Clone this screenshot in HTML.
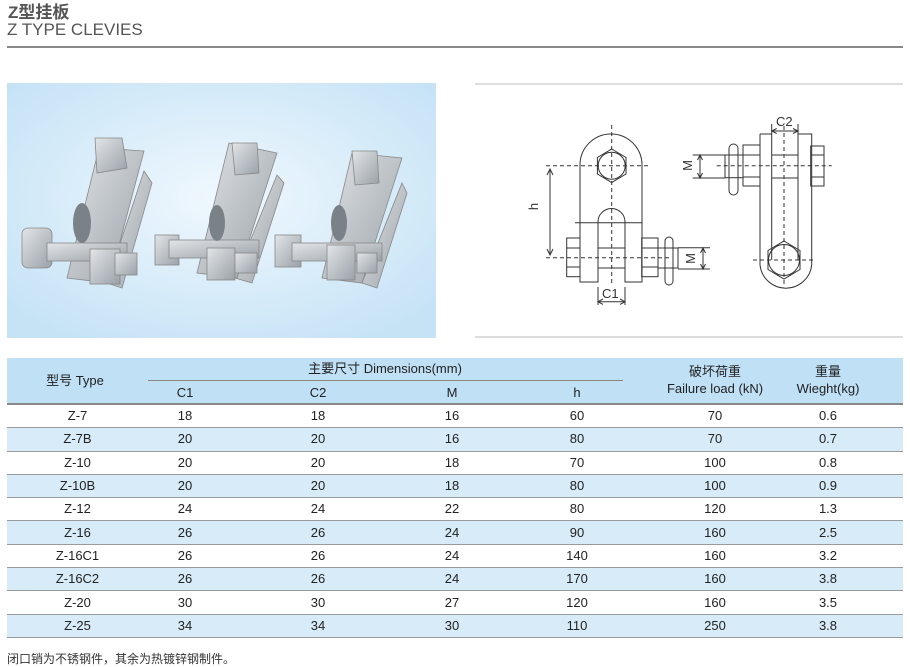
<!DOCTYPE html>
<html><head><meta charset="utf-8"><style>
body{margin:0;width:910px;height:665px;background:#fff;position:relative;font-family:"Liberation Sans","Noto Sans CJK SC",sans-serif;color:#333;overflow:hidden}
.a{position:absolute}
table{border-collapse:collapse;position:absolute;left:7px;top:405px;width:896px;font-size:13px;color:#222;table-layout:fixed}
td{text-align:center;padding:0;height:22.3px;border-bottom:1px solid #9a9a9a;line-height:22px}
tr.b td{background:#d7ebf8}
.h{position:absolute;font-size:13px;color:#222;text-align:center;width:160px;line-height:17px}
</style></head><body>
<div class="a" style="left:8px;top:-2px;font-size:17px;font-weight:bold;color:#555">Z型挂板</div>
<div class="a" style="left:7px;top:20px;font-size:17px;color:#555">Z TYPE CLEVIES</div>
<div class="a" style="left:7px;top:46px;width:896px;height:2px;background:#888"></div>

<svg class="a" style="left:7px;top:83px" width="429" height="255">
<defs><radialGradient id="g" cx="50%" cy="45%" r="65%"><stop offset="0" stop-color="#f0f8fe"/><stop offset="1" stop-color="#c6e3f6"/></radialGradient>
<linearGradient id="m" x1="0" y1="0" x2="1" y2="1"><stop offset="0" stop-color="#e2e5e8"/><stop offset="1" stop-color="#9aa1a7"/></linearGradient></defs>
<rect width="429" height="255" fill="url(#g)"/>
<g fill="url(#m)" stroke="#888" stroke-width="0.8">
<polygon points="137,88 145,100 115,205 100,200"/>
<polygon points="92,65 137,68 102,200 60,195"/>
<rect x="15" y="145" width="30" height="40" rx="6"/><rect x="40" y="160" width="80" height="18"/><rect x="83" y="166" width="30" height="35"/><rect x="108" y="170" width="22" height="22"/>
<polygon points="88,55 115,55 120,85 90,90"/>
<polygon points="270,92 277,100 245,200 228,195"/>
<polygon points="222,60 270,70 230,195 190,190"/>
<rect x="148" y="152" width="24" height="30"/><rect x="162" y="157" width="90" height="18"/><rect x="200" y="165" width="28" height="32"/><rect x="228" y="170" width="22" height="20"/>
<polygon points="225,60 250,60 252,90 228,92"/>
<polygon points="395,100 400,110 370,205 355,200"/>
<polygon points="345,70 395,75 355,200 315,195"/>
<rect x="268" y="152" width="26" height="32"/><rect x="285" y="160" width="90" height="18"/><rect x="320" y="162" width="28" height="35"/><rect x="350" y="170" width="20" height="20"/>
<polygon points="345,68 370,68 372,100 348,102"/>
</g>
<g fill="#7a8187"><ellipse cx="75" cy="140" rx="9" ry="20"/><ellipse cx="210" cy="140" rx="8" ry="18"/><ellipse cx="332" cy="140" rx="8" ry="18"/></g>
</svg>

<div class="a" style="left:475px;top:83px;width:428px;height:2px;background:#ddd"></div>
<div class="a" style="left:475px;top:336px;width:428px;height:2px;background:#ddd"></div>
<svg class="a" style="left:0;top:0" width="910" height="340" fill="none" stroke="#333" stroke-width="1">
<path d="M580,282 V165 A31,31 0 0 1 642,165 V282 H625 V222 A13.5,13.5 0 0 0 598,222 V282 Z"/>
<polygon points="611.7,149 626,157.5 626,174 611.7,182.5 597.4,174 597.4,157.5"/>
<circle cx="611.7" cy="165.7" r="13.5"/>
<line x1="575" y1="222.7" x2="642" y2="222.7"/>
<rect x="566.7" y="238" width="13.3" height="38.7"/><line x1="566.7" y1="248" x2="580" y2="248"/><line x1="566.7" y1="267" x2="580" y2="267"/>
<rect x="641.7" y="238" width="16.3" height="38.7"/><line x1="641.7" y1="248" x2="658" y2="248"/><line x1="641.7" y1="267" x2="658" y2="267"/>
<rect x="598" y="248" width="27" height="20"/>
<rect x="658" y="248" width="20" height="20"/>
<rect x="665" y="237" width="8" height="48" rx="4"/>
<g stroke-dasharray="4,3"><line x1="611.7" y1="125" x2="611.7" y2="284"/><line x1="546" y1="165.7" x2="650" y2="165.7"/><line x1="546" y1="257.7" x2="670" y2="257.7"/></g>
<line x1="550" y1="169" x2="550" y2="255"/><path d="M547,175 L550,169 L553,175 M547,249 L550,255 L553,249"/>
<line x1="678" y1="247.7" x2="710" y2="247.7"/><line x1="678" y1="269" x2="710" y2="269"/>
<line x1="703" y1="248" x2="703" y2="269"/><path d="M700.5,253 L703,248 L705.5,253 M700.5,264 L703,269 L705.5,264"/>
<line x1="598" y1="287" x2="598" y2="305"/><line x1="625" y1="287" x2="625" y2="305"/>
<line x1="598" y1="301.7" x2="625" y2="301.7"/><path d="M603,299 L598,301.7 L603,304.4 M620,299 L625,301.7 L620,304.4"/>
<path d="M760,134 H771.7 V260 M798,260 V134 H811.7 V265 A26,26 0 0 1 760,265 V134"/>
<line x1="771.7" y1="155" x2="798" y2="155"/><line x1="771.7" y1="178" x2="798" y2="178"/>
<polygon points="784,241 800,250.5 800,269.5 784,279 768,269.5 768,250.5"/>
<circle cx="784" cy="260" r="15.5"/>
<rect x="743" y="145" width="17" height="41"/><line x1="743" y1="155" x2="760" y2="155"/><line x1="743" y1="177" x2="760" y2="177"/>
<rect x="810.7" y="146" width="13.3" height="40"/><line x1="810.7" y1="155" x2="824" y2="155"/><line x1="810.7" y1="177" x2="824" y2="177"/>
<rect x="725" y="155" width="18" height="22.7"/>
<rect x="729" y="144" width="9" height="51" rx="4.5"/>
<g stroke-dasharray="4,3"><line x1="784" y1="126" x2="784" y2="285"/><line x1="716.7" y1="165.7" x2="831.7" y2="165.7"/><line x1="753" y1="260" x2="815" y2="260"/></g>
<line x1="692.7" y1="155" x2="725" y2="155"/><line x1="692.7" y1="178" x2="725" y2="178"/>
<line x1="700" y1="155" x2="700" y2="178"/><path d="M697.5,160 L700,155 L702.5,160 M697.5,173 L700,178 L702.5,173"/>
<line x1="771.7" y1="124" x2="771.7" y2="134"/><line x1="798" y1="124" x2="798" y2="134"/>
<line x1="771.7" y1="131" x2="798" y2="131"/><path d="M776.7,128.5 L771.7,131 L776.7,133.5 M793,128.5 L798,131 L793,133.5"/>
</svg>
<div class="a" style="left:530px;top:199px;font-size:13px;transform:rotate(-90deg)">h</div>
<div class="a" style="left:685px;top:251px;font-size:13px;transform:rotate(-90deg)">M</div>
<div class="a" style="left:682px;top:158px;font-size:13px;transform:rotate(-90deg)">M</div>
<div class="a" style="left:602px;top:286px;font-size:13px">C1</div>
<div class="a" style="left:776px;top:114px;font-size:13px">C2</div>

<div class="a" style="left:7px;top:358px;width:896px;height:45px;background:#bfe0f5;border-bottom:2px solid #888"></div>
<div class="a" style="left:148px;top:380px;width:475px;height:1px;background:#888"></div>
<div class="h" style="left:-5px;top:372px">型号 Type</div>
<div class="h" style="left:305px;top:360px">主要尺寸 Dimensions(mm)</div>
<div class="h" style="left:105px;top:384px">C1</div>
<div class="h" style="left:238px;top:384px">C2</div>
<div class="h" style="left:372px;top:384px">M</div>
<div class="h" style="left:497px;top:384px">h</div>
<div class="h" style="left:635px;top:363px">破坏荷重<br>Failure load (kN)</div>
<div class="h" style="left:748px;top:363px">重量<br>Wieght(kg)</div>

<table>
<colgroup><col style="width:141px"><col style="width:74px"><col style="width:192px"><col style="width:76px"><col style="width:174px"><col style="width:102px"><col style="width:124px"><col style="width:13px"></colgroup>
<tr><td>Z-7</td><td>18</td><td>18</td><td>16</td><td>60</td><td>70</td><td>0.6</td><td></td></tr>
<tr class="b"><td>Z-7B</td><td>20</td><td>20</td><td>16</td><td>80</td><td>70</td><td>0.7</td><td></td></tr>
<tr><td>Z-10</td><td>20</td><td>20</td><td>18</td><td>70</td><td>100</td><td>0.8</td><td></td></tr>
<tr class="b"><td>Z-10B</td><td>20</td><td>20</td><td>18</td><td>80</td><td>100</td><td>0.9</td><td></td></tr>
<tr><td>Z-12</td><td>24</td><td>24</td><td>22</td><td>80</td><td>120</td><td>1.3</td><td></td></tr>
<tr class="b"><td>Z-16</td><td>26</td><td>26</td><td>24</td><td>90</td><td>160</td><td>2.5</td><td></td></tr>
<tr><td>Z-16C1</td><td>26</td><td>26</td><td>24</td><td>140</td><td>160</td><td>3.2</td><td></td></tr>
<tr class="b"><td>Z-16C2</td><td>26</td><td>26</td><td>24</td><td>170</td><td>160</td><td>3.8</td><td></td></tr>
<tr><td>Z-20</td><td>30</td><td>30</td><td>27</td><td>120</td><td>160</td><td>3.5</td><td></td></tr>
<tr class="b"><td>Z-25</td><td>34</td><td>34</td><td>30</td><td>110</td><td>250</td><td>3.8</td><td></td></tr>
</table>
<div class="a" style="left:7px;top:650px;font-size:12px;color:#333">闭口销为不锈钢件，其余为热镀锌钢制件。</div>
</body></html>
